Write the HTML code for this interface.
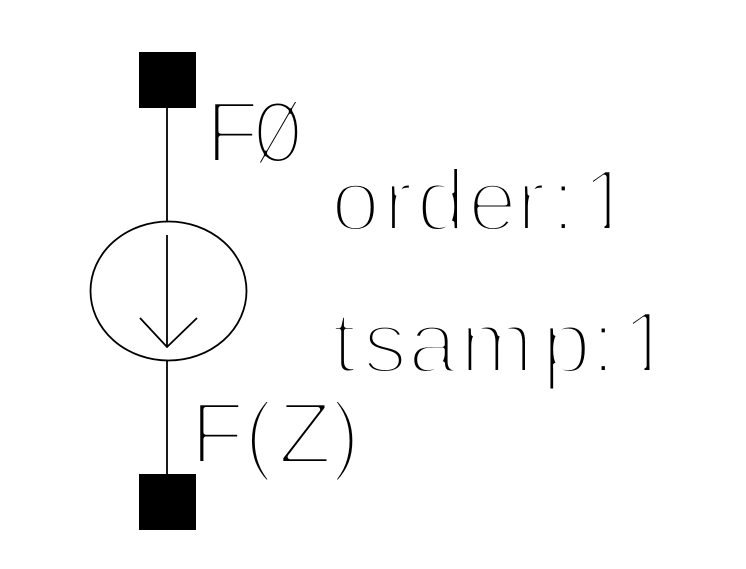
<!DOCTYPE html>
<html>
<head>
<meta charset="utf-8">
<style>
html,body{margin:0;padding:0;background:#fff;width:746px;height:569px;overflow:hidden}
svg{display:block}
text{font-family:"Liberation Sans",sans-serif;font-size:88px;fill:#000;stroke:#fff;stroke-width:5px;stroke-linejoin:round}
</style>
</head>
<body>
<svg width="746" height="569" viewBox="0 0 746 569" xmlns="http://www.w3.org/2000/svg">
<rect width="746" height="569" fill="#fff"/>
<text x="205.500" y="162.500">F</text>
<text transform="translate(254,162.500) scale(.7,1)" x="0" y="0">Ø</text>
<text x="331 383.500 416.500 468 516.500 551 582" y="230.500">order:1</text>
<text x="332 363 408 460 542 591 622" y="372.500">tsamp:1</text>
<text x="190.500 244 278 331" y="463.500">F(Z)</text>
<g fill="#fff">
<rect x="581" y="221" width="23.500" height="14"/>
<rect x="609.500" y="221" width="25" height="14"/>
<rect x="621" y="363" width="23.500" height="14"/>
<rect x="649.500" y="363" width="25" height="14"/>
</g>
<rect x="139" y="52" width="57" height="56" fill="#000"/>
<rect x="139" y="474" width="57" height="56" fill="#000"/>
<g fill="none" stroke="#000" stroke-width="1.8">
<line x1="167" y1="108" x2="167" y2="222"/>
<line x1="167" y1="360" x2="167" y2="474"/>
<ellipse cx="168.500" cy="291" rx="78" ry="69.500"/>
<line x1="167" y1="235" x2="167" y2="347"/>
<polyline points="140,318 167,347 197,318"/>
</g>
</svg>
</body>
</html>
